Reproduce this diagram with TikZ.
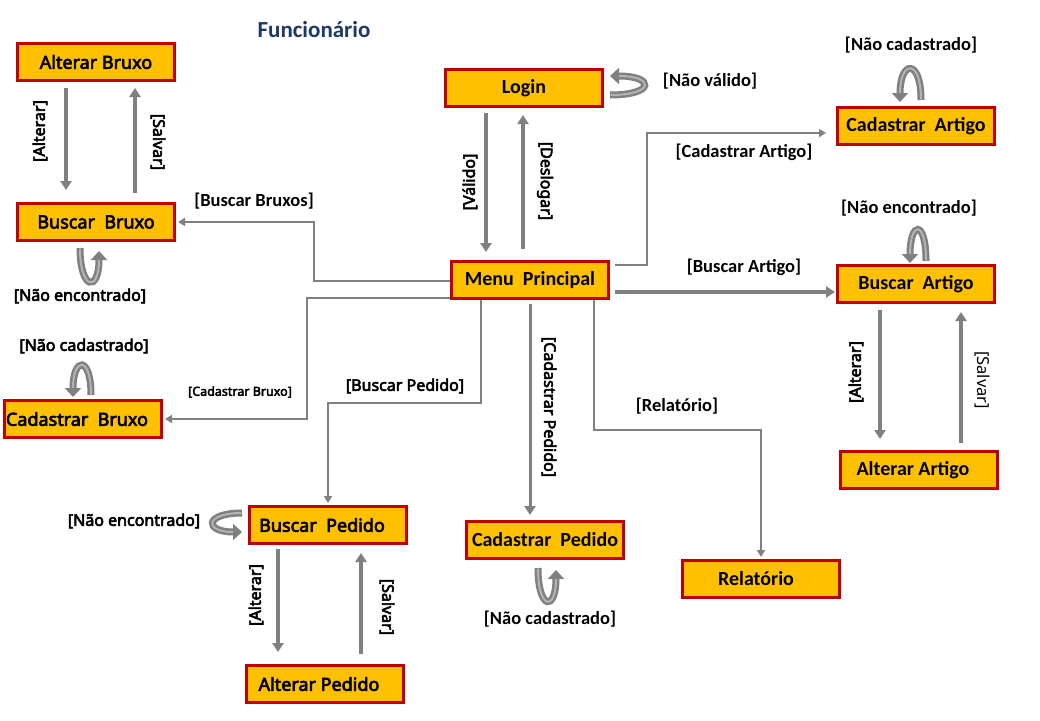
\documentclass[tikz,border=0pt]{standalone}
\usepackage{fontspec}
\setmainfont{Carlito}
\newfontfamily\tahfont{Noto Sans}[AutoFakeBold=3.5]
\newfontfamily\calfont{Carlito}
\usetikzlibrary{arrows.meta,calc}
\definecolor{boxfill}{RGB}{255,192,0}
\definecolor{boxred}{RGB}{192,0,0}
\definecolor{arrgray}{RGB}{128,128,128}
\definecolor{navyblue}{RGB}{31,56,100}
\begin{document}
\begin{tikzpicture}[x=1pt,y=-1pt,
 box/.style={draw=boxred, fill=boxfill, line width=3pt, minimum width=157pt, minimum height=37pt, inner sep=0pt},
 tbox/.style={box, font=\tahfont\bfseries\fontsize{18}{22}\selectfont},
 cbox/.style={box, font=\calfont\bfseries\fontsize{20}{24}\selectfont},
 tlbl/.style={inner sep=0pt, font=\tahfont\bfseries\fontsize{16}{19}\selectfont},
 tlblr/.style={inner sep=0pt, font=\tahfont\fontsize{16.5}{19}\selectfont},
 tlbls/.style={inner sep=0pt, font=\tahfont\bfseries\fontsize{12.5}{15}\selectfont},
 clbl/.style={inner sep=0pt, font=\calfont\bfseries\fontsize{18.5}{22}\selectfont},
 varr/.style={draw=arrgray, line width=3.5pt, -{Triangle[width=11pt,length=9pt]}},
 earr/.style={draw=arrgray, line width=2.5pt, -{Triangle[width=8pt,length=7pt]}},
 larr/.style={draw=arrgray, line width=7pt, -{Triangle[width=16pt,length=9pt]},
   postaction={draw=arrgray!60!white, line width=2pt, -, shorten >=9pt, shorten <=0.5pt}},
]
\fill[white] (0,0) rectangle (1040,720);
\useasboundingbox (0,0) rectangle (1040,720);

% title
\node[font=\calfont\bfseries\fontsize{23}{27}\selectfont, text=navyblue] (title) at (314,30) {Funcionário};

% boxes
\node[tbox] (ab) at (96,62) {Alterar Bruxo};
\node[tbox] (bb) at (96,222) {Buscar~ Bruxo};
\node[cbox] (login) at (524,88) {Login};
\node[cbox] (ca) at (916,126) {Cadastrar~ Artigo};
\node[cbox] (mp) at (530,280) {Menu~ Principal};
\node[cbox] (ba) at (916,284) {Buscar~ Artigo};
\node[tbox] (cb) at (83,419) {\hspace*{-12pt}Cadastrar~ Bruxo};
\node[cbox] (aa) at (919,470) {\hspace*{-12pt}Alterar Artigo};
\node[tbox] (bp) at (328,525) {\hspace*{-12pt}Buscar~ Pedido};
\node[cbox] (cp) at (545,540) {Cadastrar~ Pedido};
\node[cbox] (rel) at (761,579) {\hspace*{-10pt}Relatório};
\node[tbox] (apd) at (325,684) {\hspace*{-12pt}Alterar Pedido};

% Bruxo arrows
\draw[varr] ($(ab.south)+(-30,6)$) -- ($(bb.north)+(-30,-12)$);
\draw[varr] ($(bb.north)+(39,-9)$) -- ($(ab.south)+(39,6)$);
\node[tlbl, rotate=90] (l1) at (40,131) {[Alterar]};
\node[tlbl, rotate=-90] (l2) at (158,142) {[Salvar]};

% Menu -> Buscar Bruxo
\draw[earr] ($(mp.west)+(0,1)$) -| ($(bb.east)+(138,0)$) -- ($(bb.east)+(2,0)$);
\node[clbl] (l3) at (254,201) {[Buscar Bruxos]};

% Menu -> Cadastrar Bruxo
\draw[earr] ($(mp.west)+(0,18)$) -| ($(cb.east)+(144,0)$) -- ($(cb.east)+(2,0)$);
\node[tlbls] (l4) at (240,392) {[Cadastrar Bruxo]};

% Menu -> Buscar Pedido
\draw[earr] ($(mp.south)+(-49,0)$) |- ($(bp.north)+(0,-102)$) -- ($(bp.north)+(0,-2)$);
\node[tlbl] (l5) at (405,386) {[Buscar Pedido]};

% Menu -> Cadastrar Pedido
\draw[varr, line width=3pt] ($(mp.south)+(0,4)$) -- ($(cp.north)+(-15,-5)$);
\node[tlbl, rotate=-90] (l6) at (549,407) {[Cadastrar Pedido]};

% Menu -> Relatorio
\draw[earr] ($(mp.south)+(64,0)$) |- ($(rel.north)+(0,-129)$) -- ($(rel.north)+(0,-2)$);
\node[clbl] (l7) at (677,406) {[Relatório]};

% Menu -> Cadastrar Artigo
\draw[earr] ($(mp.east)+(5,-15)$) -| ($(ca.west)+(-189,7)$) -- ($(ca.west)+(-10,7)$);
\node[clbl] (l8) at (744,152) {[Cadastrar Artigo]};

% Menu -> Buscar Artigo
\draw[varr, line width=4pt] ($(mp.east)+(5,12)$) -- ($(ba.west)+(-1,8)$);
\node[clbl] (l9) at (744,267) {[Buscar Artigo]};

% Login <-> Menu
\draw[varr] ($(login.south)+(-38,5)$) -- ($(mp.north)+(-44,-8)$);
\draw[varr] ($(mp.north)+(-7,-11)$) -- ($(login.south)+(-1,7)$);
\node[tlbl, rotate=90] (l10) at (470,182) {[Válido]};
\node[tlbl, rotate=-90] (l11) at (545,181) {[Deslogar]};

% Artigo arrows
\draw[varr] ($(ba.south)+(-36,6)$) -- ($(aa.north)+(-39,-11)$);
\draw[varr] ($(aa.north)+(42,-7)$) -- ($(ba.south)+(45,8)$);
\node[tlbl, rotate=90] (l12) at (856,372) {[Alterar]};
\node[tlblr, rotate=-90] (l13) at (982,380) {[Salvar]};

% Pedido arrows
\draw[varr] ($(bp.south)+(-50,4)$) -- ($(apd.north)+(-47,-12)$);
\draw[varr] ($(apd.north)+(36,-10)$) -- ($(bp.south)+(33,8)$);
\node[tlbl, rotate=90] (l14) at (256,595) {[Alterar]};
\node[tlbl, rotate=-90] (l15) at (387,607) {[Salvar]};

% self loops
\draw[larr] ($(bb.south)+(-16,6)$) .. controls +(0,42) and +(0,42) .. ($(bb.south)+(3,9)$);
\node[tlbl] (l16) at (80,296) {[Não encontrado]};

\draw[larr] ($(login.east)+(6,7)$) .. controls +(45,0) and +(45,0) .. ($(login.east)+(6,-12)$);
\node[clbl] (l17) at (710,81) {[Não válido]};

\draw[larr] ($(ca.north)+(5,-6)$) .. controls +(0,-42) and +(0,-42) .. ($(ca.north)+(-16,-4)$);
\node[clbl] (l18) at (911,45) {[Não cadastrado]};

\draw[larr] ($(ba.north)+(10,-3)$) .. controls +(0,-42) and +(0,-42) .. ($(ba.north)+(-6,-1)$);
\node[clbl] (l19) at (909,208) {[Não encontrado]};

\draw[larr] ($(cb.north)+(8,-4)$) .. controls +(0,-40) and +(0,-40) .. ($(cb.north)+(-10,-2)$);
\node[tlbl] (l20) at (84,346) {[Não cadastrado]};

\draw[larr] ($(bp.west)+(-6,-12)$) .. controls +(-38,0) and +(-38,0) .. ($(bp.west)+(-6,7)$);
\node[tlbl] (l21) at (134,521) {[Não encontrado]};

\draw[larr] ($(cp.south)+(-7,8)$) .. controls +(0,42) and +(0,42) .. ($(cp.south)+(11,10)$);
\node[clbl] (l22) at (550,619) {[Não cadastrado]};
\end{tikzpicture}
\end{document}
